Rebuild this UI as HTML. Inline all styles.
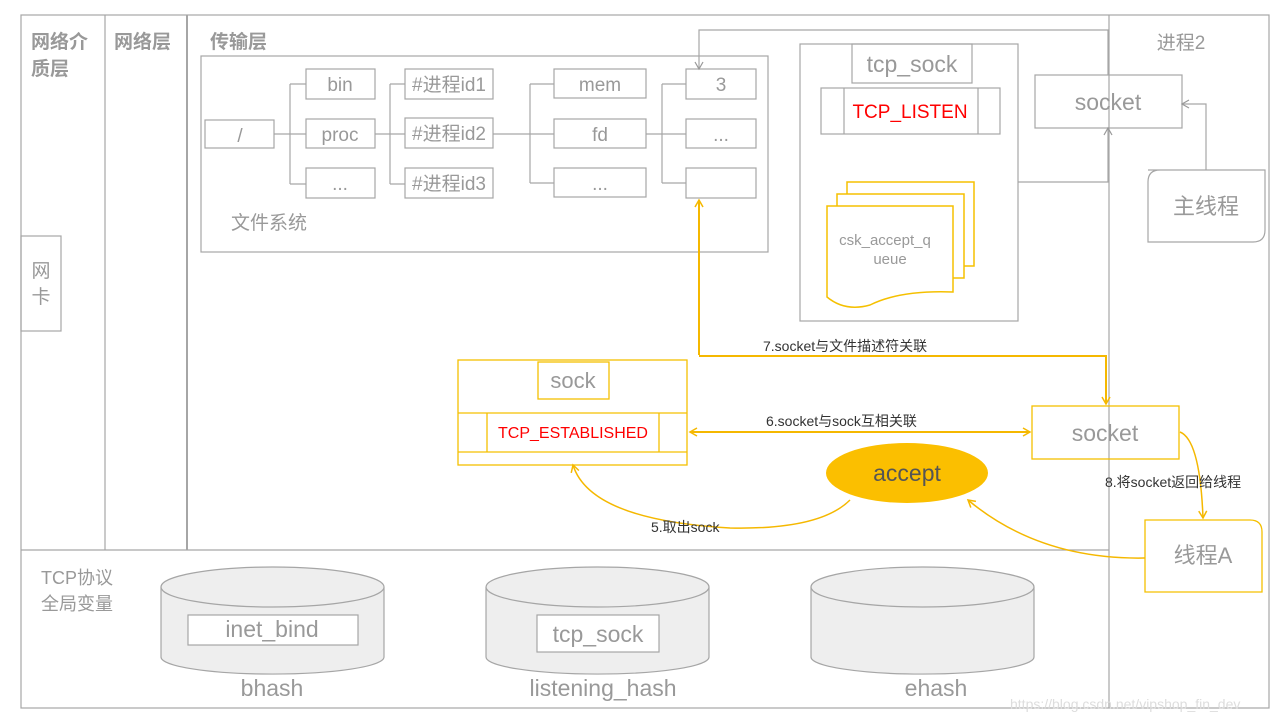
<!DOCTYPE html>
<html><head><meta charset="utf-8"><style>
html,body{margin:0;padding:0;background:#fff;}
svg{display:block;font-family:"Liberation Sans","Noto Sans CJK SC",sans-serif;}
</style></head><body>
<svg width="1280" height="720" viewBox="0 0 1280 720">
<defs>
<marker id="ay" markerWidth="10" markerHeight="10" refX="8" refY="5" orient="auto-start-reverse" markerUnits="userSpaceOnUse"><path d="M1,1 L8,5 L1,9" fill="none" stroke="#f5b800" stroke-width="1.5"/></marker>
<marker id="ag" markerWidth="10" markerHeight="10" refX="8" refY="5" orient="auto" markerUnits="userSpaceOnUse"><path d="M1,1 L8,5 L1,9" fill="none" stroke="#999" stroke-width="1.2"/></marker>
</defs>
<g fill="none" stroke="#a6a6a6" stroke-width="1.2">
<rect x="21" y="15" width="1248" height="693"/>
<line x1="105" y1="15" x2="105" y2="550"/>
<line x1="187" y1="15" x2="187" y2="550" stroke-width="2"/>
<line x1="1109" y1="15" x2="1109" y2="708"/>
<line x1="21" y1="550" x2="1109" y2="550"/>
<rect x="21" y="236" width="40" height="95"/>
<rect x="201" y="56" width="567" height="196"/>
<rect x="205" y="120" width="69" height="28"/>
<rect x="306" y="69" width="69" height="30"/><rect x="306" y="119" width="69" height="29"/><rect x="306" y="168" width="69" height="30"/>
<rect x="405" y="69" width="88" height="30"/><rect x="405" y="118" width="88" height="30"/><rect x="405" y="168" width="88" height="30"/>
<rect x="554" y="69" width="92" height="29"/><rect x="554" y="119" width="92" height="29"/><rect x="554" y="168" width="92" height="29"/>
<rect x="686" y="69" width="70" height="30"/><rect x="686" y="119" width="70" height="29"/><rect x="686" y="168" width="70" height="30"/>
<path d="M274,134 H306 M290,84 V184 M290,84 H306 M290,184 H306"/>
<path d="M375,134 H405 M390,84 V184 M390,84 H405 M390,184 H405"/>
<path d="M493,134 H554 M530,84 V183 M530,84 H554 M530,183 H554"/>
<path d="M646,134 H686 M662,84 V183 M662,84 H686 M662,183 H686"/>
<rect x="800" y="44" width="218" height="277"/>
<rect x="852" y="44" width="120" height="39"/>
<rect x="821" y="88" width="179" height="46"/>
<line x1="844" y1="88" x2="844" y2="134"/><line x1="978" y1="88" x2="978" y2="134"/>
<rect x="1035" y="75" width="147" height="53"/>
<path d="M1148,170 H1265 V230 Q1265,242 1253,242 H1148 V182 Q1148,170 1160,170 Z"/>
</g>
<g fill="none" stroke="#a6a6a6" stroke-width="1.2">
<path d="M1108,75 V30 H699 V69" marker-end="url(#ag)"/>
<path d="M1018,182 H1108 V128" marker-end="url(#ag)"/>
<path d="M1206,170 V104 H1182" marker-end="url(#ag)"/>
</g>
<g fill="#fff" stroke="#f5c000" stroke-width="1.5">
<rect x="847" y="182" width="127" height="84"/>
<rect x="837" y="194" width="127" height="84"/>
<path d="M827,206 H953 V292 Q900,290 870,305 Q845,312 827,297 Z"/>
</g>
<g fill="none" stroke="#f5c000" stroke-width="1.3">
<rect x="458" y="360" width="229" height="105"/>
<rect x="538" y="362" width="71" height="37"/>
<line x1="458" y1="413" x2="687" y2="413"/><line x1="458" y1="452" x2="687" y2="452"/>
<line x1="487" y1="413" x2="487" y2="452"/><line x1="659" y1="413" x2="659" y2="452"/>
<rect x="1032" y="406" width="147" height="53"/>
<path d="M1145,520 H1250 Q1262,520 1262,532 V592 H1145 Z"/>
</g>
<ellipse cx="907" cy="473" rx="81" ry="30" fill="#fbbf00"/>
<g fill="none" stroke="#f5b800" stroke-width="2">
<path d="M699,355 V200" marker-end="url(#ay)"/>
<path d="M699,356 H1106 V404" marker-end="url(#ay)"/>
<path d="M690,432 H1030" marker-end="url(#ay)" marker-start="url(#ay)"/>
<path d="M1180,432 Q1200,440 1203,518" marker-end="url(#ay)" stroke-width="1.5"/>
<path d="M850,500 Q820,530 730,528 Q590,520 573,465" marker-end="url(#ay)" stroke-width="1.5"/>
<path d="M1145,558 Q1040,560 968,500" marker-end="url(#ay)" stroke-width="1.5"/>
</g>
<g fill="#eeeeee" stroke="#a6a6a6" stroke-width="1.2">
<path d="M161,587 V657 A111,17 0 0 0 384,657 V587"/><ellipse cx="272.5" cy="587" rx="111.5" ry="20"/>
<path d="M486,587 V657 A111,17 0 0 0 709,657 V587"/><ellipse cx="597.5" cy="587" rx="111.5" ry="20"/>
<path d="M811,587 V657 A111,17 0 0 0 1034,657 V587"/><ellipse cx="922.5" cy="587" rx="111.5" ry="20"/>
</g>
<g fill="#fff" stroke="#a6a6a6" stroke-width="1.2">
<rect x="188" y="615" width="170" height="30"/>
<rect x="537" y="615" width="122" height="37"/>
</g>
<g fill="#999" font-weight="bold" font-size="19">
<text x="31" y="48">网络介</text><text x="31" y="75">质层</text>
<text x="114" y="48">网络层</text>
<text x="210" y="48">传输层</text>
</g>
<g fill="#999" font-size="19" text-anchor="middle">
<text x="41" y="277">网</text><text x="41" y="303">卡</text>
<text x="240" y="142">/</text>
<text x="340" y="91">bin</text><text x="340" y="141">proc</text><text x="340" y="190">...</text>
<text x="449" y="91">#进程id1</text><text x="449" y="140">#进程id2</text><text x="449" y="190">#进程id3</text>
<text x="600" y="91">mem</text><text x="600" y="141">fd</text><text x="600" y="190">...</text>
<text x="721" y="91">3</text><text x="721" y="141">...</text>
<text x="269" y="229">文件系统</text>
<text x="912" y="72" font-size="23">tcp_sock</text>
<text x="1108" y="110" font-size="23">socket</text>
<text x="1181" y="49">进程2</text>
<text x="1206" y="214" font-size="22">主线程</text>
<text x="885" y="245" font-size="15">csk_accept_q</text>
<text x="890" y="264" font-size="15">ueue</text>
<text x="573" y="388" font-size="22">sock</text>
<text x="1105" y="441" font-size="23">socket</text>
<text x="1203" y="563" font-size="22">线程A</text>
<text x="272" y="637" font-size="23">inet_bind</text>
<text x="598" y="642" font-size="23">tcp_sock</text>
<text x="272" y="696" font-size="23">bhash</text>
<text x="603" y="696" font-size="23">listening_hash</text>
<text x="936" y="696" font-size="23">ehash</text>
</g>
<g fill="#999" font-size="18"><text x="41" y="584">TCP协议</text><text x="41" y="610">全局变量</text></g>
<text x="910" y="118" fill="#ff0000" font-size="19" text-anchor="middle">TCP_LISTEN</text>
<text x="573" y="438" fill="#ff0000" font-size="16" text-anchor="middle">TCP_ESTABLISHED</text>
<text x="907" y="481" fill="#555" font-size="23" text-anchor="middle">accept</text>
<g fill="#333" font-size="14">
<text x="763" y="351">7.socket与文件描述符关联</text>
<text x="766" y="426">6.socket与sock互相关联</text>
<text x="1105" y="487">8.将socket返回给线程</text>
<text x="651" y="532">5.取出sock</text>
</g>
<text x="1010" y="709" fill="#ddd" font-size="14">https://blog.csdn.net/vipshop_fin_dev</text>
</svg>
</body></html>
